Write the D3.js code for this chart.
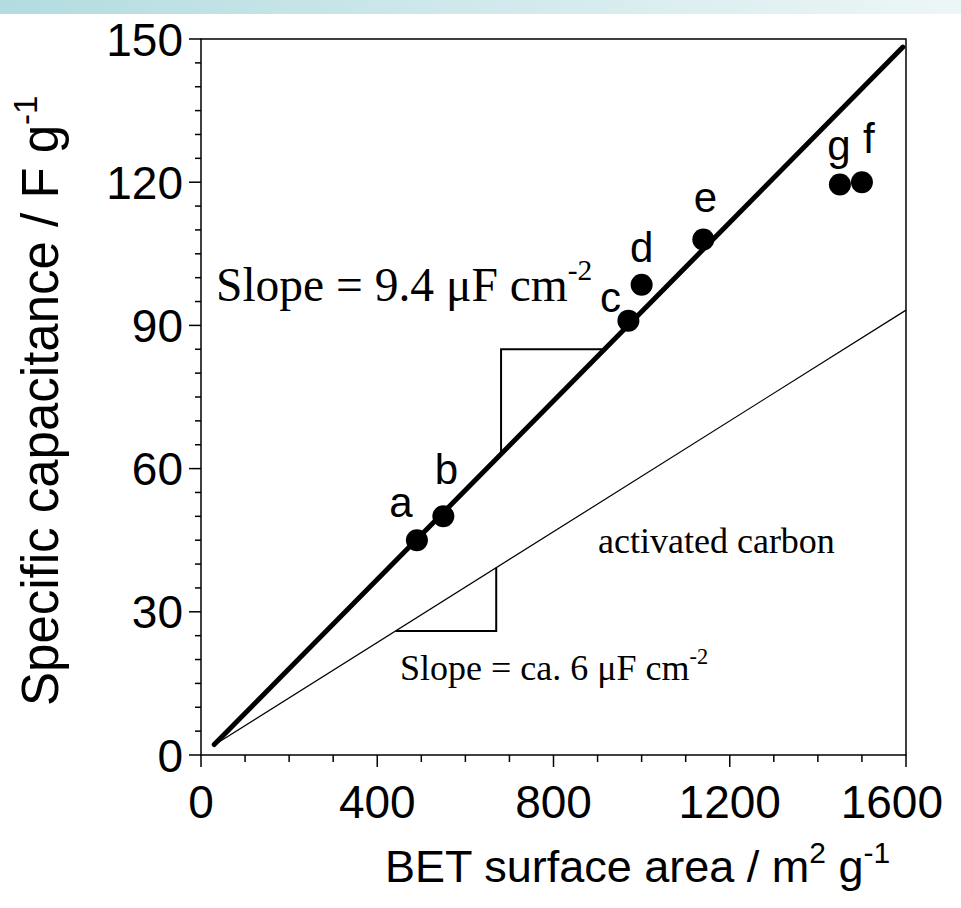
<!DOCTYPE html>
<html><head><meta charset="utf-8">
<script src="https://cdn.jsdelivr.net/npm/d3@7"></script>
<style>body{margin:0;background:#fff} svg{display:block}</style>
</head><body><svg id="c" width="961" height="908"></svg>
<script>
// ---- data ----
const samples = ["a", "b", "c", "d", "e", "f", "g"];
const betArea = [490, 550, 970, 1000, 1140, 1500, 1450];
const capacitance = [45, 50, 91, 98.5, 108, 120, 119.5];
const fitLine = [[30, 2.2], [1593, 148.3]];      // slope 9.4 uF cm-2
const carbonLine = [[30, 2.1], [1600, 93.2]];    // slope ca. 6 uF cm-2
const xTicks = [0, 400, 800, 1200, 1600];
const yTicks = [0, 30, 60, 90, 120, 150];
const xMinor = d3.range(0, 1601, 100);
const yMinor = d3.range(0, 151, 5);
const upperTri = {x: 681, y: 85};
const lowerTri = {x: 670, y: 26};

// ---- layout ----
const svg = d3.select("#c");
const L = 201, R = 906, T = 39, B = 755;
const x = d3.scaleLinear().domain([0, 1600]).range([L, R]);
const y = d3.scaleLinear().domain([0, 150]).range([B, T]);

// top band
const defs = svg.append("defs");
const g0 = defs.append("linearGradient").attr("id", "band");
g0.append("stop").attr("offset", "0%").attr("stop-color", "#b3dce0");
g0.append("stop").attr("offset", "100%").attr("stop-color", "#edf6f7");
svg.append("rect").attr("x", 0).attr("y", 0).attr("width", 961).attr("height", 14).attr("fill", "url(#band)");

const lineY = (ln, xv) => ln[0][1] + (xv - ln[0][0]) * (ln[1][1] - ln[0][1]) / (ln[1][0] - ln[0][0]);
const lineX = (ln, yv) => ln[0][0] + (yv - ln[0][1]) * (ln[1][0] - ln[0][0]) / (ln[1][1] - ln[0][1]);
const path = d3.line().x(d => x(d[0])).y(d => y(d[1]));

// frame
svg.append("rect").attr("x", L).attr("y", T).attr("width", R - L).attr("height", B - T)
  .attr("fill", "none").attr("stroke", "#000").attr("stroke-width", 1.5);

// lines
svg.append("path").attr("d", path(carbonLine)).attr("fill", "none").attr("stroke", "#000").attr("stroke-width", 1.2);
svg.append("path").attr("d", path(fitLine)).attr("fill", "none").attr("stroke", "#000").attr("stroke-width", 5).attr("stroke-linecap", "round");

// slope triangles
svg.append("path").attr("d", path([[lineX(fitLine, upperTri.y), upperTri.y], [upperTri.x, upperTri.y], [upperTri.x, lineY(fitLine, upperTri.x)]]))
  .attr("fill", "none").attr("stroke", "#000").attr("stroke-width", 2);
svg.append("path").attr("d", path([[lineX(carbonLine, lowerTri.y), lowerTri.y], [lowerTri.x, lowerTri.y], [lowerTri.x, lineY(carbonLine, lowerTri.x)]]))
  .attr("fill", "none").attr("stroke", "#000").attr("stroke-width", 2);

// points
const pts = samples.map((s, i) => ({s, bx: betArea[i], c: capacitance[i]}));
svg.selectAll("circle.pt").data(pts).join("circle").attr("class", "pt")
  .attr("cx", d => x(d.bx)).attr("cy", d => y(d.c)).attr("r", 11).attr("fill", "#000");

const labelOffsets = [[-16, -23], [3, -32], [-18, -9], [0, -23], [2, -27], [7, -29], [-1, -25]];
svg.selectAll("text.lbl").data(pts).join("text").attr("class", "lbl")
  .attr("x", (d, i) => x(d.bx) + labelOffsets[i][0]).attr("y", (d, i) => y(d.c) + labelOffsets[i][1])
  .attr("text-anchor", "middle").attr("font-family", "Liberation Sans, Arial, sans-serif")
  .attr("font-size", 42).text(d => d.s);

// annotations (serif)
function supText(xp, yp, main, sup, size, anchor) {
  const t = svg.append("text").attr("x", xp).attr("y", yp).attr("font-family", "Liberation Serif, Times New Roman, serif")
    .attr("font-size", size).attr("text-anchor", anchor || "start");
  t.append("tspan").text(main);
  t.append("tspan").attr("font-size", size * 0.62).attr("dy", -size * 0.45).text(sup);
  return t;
}
supText(216, 301, "Slope = 9.4 \u03bcF cm", "-2", 47.5);
svg.append("text").attr("x", 598).attr("y", 553).attr("font-family", "Liberation Serif, Times New Roman, serif")
  .attr("font-size", 36).text("activated carbon");
supText(400, 680, "Slope = ca. 6 \u03bcF cm", "-2", 36);

// axes
const font = "Liberation Sans, Arial, sans-serif";
const gx = svg.append("g");
gx.selectAll("line.minor").data(xMinor).join("line").attr("x1", d => x(d)).attr("x2", d => x(d))
  .attr("y1", B).attr("y2", d => xTicks.includes(d) ? B + 12 : B + 7).attr("stroke", "#000").attr("stroke-width", 1.5);
gx.selectAll("text").data(xTicks).join("text").attr("x", d => d === 1600 ? 943 : x(d)).attr("y", 818)
  .attr("text-anchor", d => d === 1600 ? "end" : "middle").attr("font-family", font).attr("font-size", 46).text(d => d);

const gy = svg.append("g");
gy.selectAll("line").data(yMinor).join("line").attr("y1", d => y(d)).attr("y2", d => y(d))
  .attr("x1", L).attr("x2", d => yTicks.includes(d) ? L - 12 : L - 6).attr("stroke", "#000").attr("stroke-width", 1.5);
gy.selectAll("text").data(yTicks).join("text").attr("x", 183).attr("y", d => y(d)).attr("dy", "0.36em")
  .attr("text-anchor", "end").attr("font-family", font).attr("font-size", 46).text(d => d);

// axis titles
const xt = svg.append("text").attr("x", 385).attr("y", 882).attr("font-family", font).attr("font-size", 45);
xt.append("tspan").text("BET surface area / m");
xt.append("tspan").attr("font-size", 30).attr("dy", -19).text("2");
xt.append("tspan").attr("dy", 19).text(" g");
xt.append("tspan").attr("font-size", 30).attr("dy", -19).text("-1");

const yt = svg.append("text").attr("transform", "translate(58,706) rotate(-90)").attr("font-family", font).attr("font-size", 51);
yt.append("tspan").text("Specific capacitance / F g");
yt.append("tspan").attr("font-size", 33).attr("dy", -21).text("-1");
</script></body></html>
